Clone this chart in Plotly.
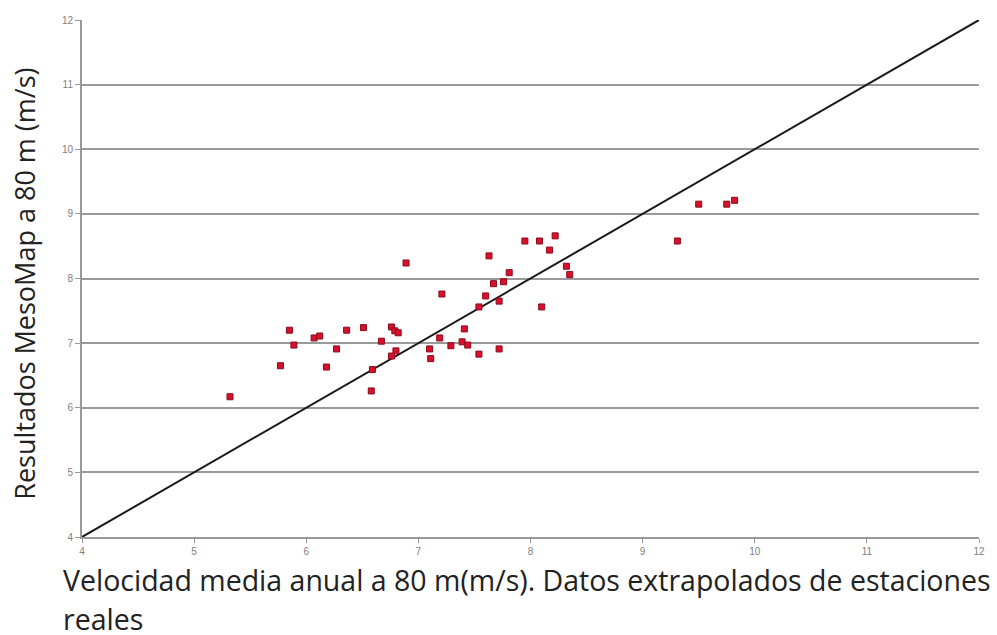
import plotly.graph_objects as go

# Extrapolated station mean wind speed at 80 m (m/s)
x_vals = [5.32, 5.77, 5.85, 5.89, 6.07, 6.12, 6.18, 6.27, 6.36, 6.51, 6.59, 6.58,
          6.67, 6.76, 6.79, 6.82, 6.80, 6.76, 6.89, 7.10, 7.11, 7.21, 7.19, 7.29,
          7.41, 7.39, 7.44, 7.54, 7.72, 7.54, 7.60, 7.72, 7.67, 7.76, 7.81, 7.63,
          7.95, 8.08, 8.22, 8.17, 8.32, 8.35, 8.10, 9.31, 9.50, 9.75, 9.82]
# MesoMap results at 80 m (m/s)
y_vals = [6.17, 6.65, 7.20, 6.97, 7.08, 7.11, 6.63, 6.91, 7.20, 7.24, 6.59, 6.26,
          7.03, 7.25, 7.19, 7.16, 6.88, 6.80, 8.24, 6.91, 6.76, 7.76, 7.08, 6.96,
          7.22, 7.02, 6.97, 6.83, 6.91, 7.56, 7.73, 7.65, 7.92, 7.95, 8.09, 8.35,
          8.58, 8.58, 8.66, 8.44, 8.19, 8.06, 7.56, 8.58, 9.15, 9.15, 9.21]
# 1:1 reference line
ref_line = [4, 12]
tick_vals = [4, 5, 6, 7, 8, 9, 10, 11, 12]

x_title_line1 = "Velocidad media anual a 80 m(m/s). Datos extrapolados de estaciones"
x_title_line2 = "reales"
y_title = "Resultados MesoMap a 80 m (m/s)"

fig = go.Figure()
fig.add_trace(go.Scatter(x=ref_line, y=ref_line, mode="lines",
                         line=dict(color="#1a1a1a", width=2), showlegend=False,
                         hoverinfo="skip"))
fig.add_trace(go.Scatter(x=x_vals, y=y_vals, mode="markers",
                         marker=dict(symbol="square", size=6, color="#d8102c",
                                     line=dict(color="#8a0a1c", width=1)),
                         showlegend=False))

axis_font = dict(family="Liberation Sans, Arial, sans-serif", size=10, color="#808080")
fig.update_xaxes(range=[4, 12], tickvals=tick_vals, showgrid=False, zeroline=False,
                 showline=True, linecolor="#9a9a9a", linewidth=2,
                 ticks="outside", ticklen=4, tickcolor="#9a9a9a", tickwidth=1,
                 tickfont=axis_font)
fig.update_yaxes(range=[4, 12], tickvals=tick_vals, showgrid=True, gridcolor="#9a9a9a",
                 gridwidth=2, zeroline=False,
                 showline=True, linecolor="#9a9a9a", linewidth=2,
                 ticks="outside", ticklen=5, tickcolor="#9a9a9a", tickwidth=1,
                 tickfont=axis_font)

title_font = dict(family="Open Sans, sans-serif", size=28.5, color="#222222")
fig.add_annotation(text=x_title_line1, xref="paper", yref="paper", x=-0.023, y=-0.083,
                   xanchor="left", yanchor="middle", showarrow=False, font=title_font)
fig.add_annotation(text=x_title_line2, xref="paper", yref="paper", x=-0.023, y=-0.159,
                   xanchor="left", yanchor="middle", showarrow=False, font=title_font)
fig.add_annotation(text=y_title, xref="paper", yref="paper", x=-0.064, y=0.489,
                   xanchor="center", yanchor="middle", textangle=-90, showarrow=False,
                   font=dict(family="Open Sans, sans-serif", size=27, color="#222222"))

fig.update_layout(width=997, height=635, margin=dict(l=82, r=14, t=20, b=98),
                  plot_bgcolor="white", paper_bgcolor="white")
# remove the default 8px page margin so the figure fills the window exactly
fig.write_html("out.html", config={"displayModeBar": False},
               post_script="document.body.style.margin='0';document.body.style.overflow='hidden';")
